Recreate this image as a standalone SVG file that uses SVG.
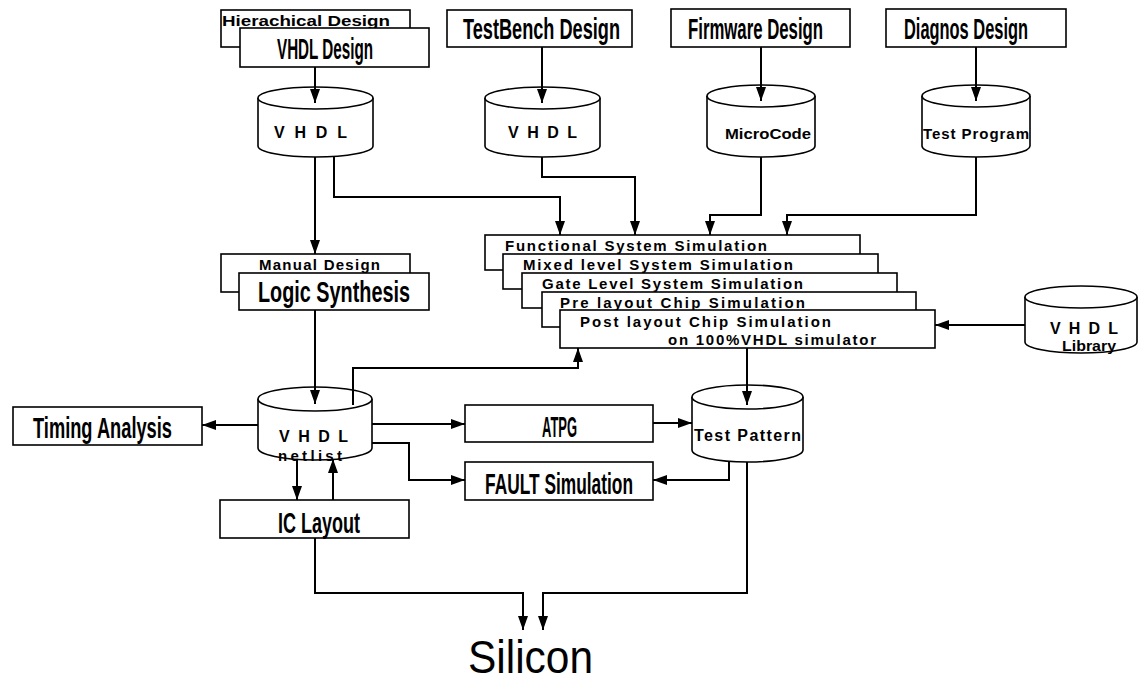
<svg xmlns="http://www.w3.org/2000/svg" width="1143" height="684" viewBox="0 0 1143 684">
  <style>
    .box { fill: #fff; stroke: #000; stroke-width: 1.6; }
    .cyl { fill: #fff; stroke: #000; stroke-width: 1.6; }
    .wire { fill: none; stroke: #000; stroke-width: 2; }
    .arr { marker-end: url(#ah); }
    .big { font-family: "Liberation Sans", Arial, sans-serif; font-size: 22px; font-weight: bold; fill: #000; }
    .sm { font-family: "Liberation Sans", Arial, sans-serif; font-size: 15px; font-weight: bold; fill: #000; }
    .cy { font-family: "Liberation Sans", Arial, sans-serif; font-size: 16px; font-weight: bold; fill: #000; }
    .si { font-family: "Liberation Sans", Arial, sans-serif; font-size: 46px; fill: #000; }
  </style>
  <defs>
    <marker id="ah" markerUnits="userSpaceOnUse" markerWidth="14" markerHeight="10" refX="14" refY="5" orient="auto">
      <path d="M0,0 L14,5 L0,10 Z" fill="#000"/>
    </marker>
  </defs>

  <!-- design entry boxes; tall labels are stretched vertically -->
  <g id="vhdl-design">
    <rect class="box" x="221" y="10" width="189" height="37"/>
    <text class="sm" x="222" y="26" textLength="168" lengthAdjust="spacingAndGlyphs">Hierachical Design</text>
    <rect class="box" x="240" y="28" width="189" height="39"/>
    <text class="big" transform="translate(277,59) scale(1,1.36)" textLength="96" lengthAdjust="spacingAndGlyphs">VHDL Design</text>
  </g>
  <g id="testbench-design">
    <rect class="box" x="447" y="10" width="185" height="37"/>
    <text class="big" transform="translate(463,39) scale(1,1.36)" textLength="157" lengthAdjust="spacingAndGlyphs">TestBench Design</text>
  </g>
  <g id="firmware-design">
    <rect class="box" x="671" y="9" width="179" height="38"/>
    <text class="big" transform="translate(688,39) scale(1,1.36)" textLength="135" lengthAdjust="spacingAndGlyphs">Firmware Design</text>
  </g>
  <g id="diagnos-design">
    <rect class="box" x="886" y="9" width="180" height="38"/>
    <text class="big" transform="translate(904,39) scale(1,1.36)" textLength="124" lengthAdjust="spacingAndGlyphs">Diagnos Design</text>
  </g>

  <!-- source databases -->
  <g id="vhdl-source">
    <path class="cyl" d="M258,98 V146 A57.5,11 0 0 0 373,146 V98"/>
    <ellipse class="cyl" cx="315.5" cy="98" rx="57.5" ry="11"/>
    <text class="cy" x="274" y="138" textLength="73" lengthAdjust="spacing">VHDL</text>
  </g>
  <g id="vhdl-testbench">
    <path class="cyl" d="M485,98 V146 A57.5,11 0 0 0 600,146 V98"/>
    <ellipse class="cyl" cx="542.5" cy="98" rx="57.5" ry="11"/>
    <text class="cy" x="508" y="138" textLength="69" lengthAdjust="spacing">VHDL</text>
  </g>
  <g id="microcode">
    <path class="cyl" d="M707,96 V146 A54,11 0 0 0 815,146 V96"/>
    <ellipse class="cyl" cx="761" cy="96" rx="54" ry="11"/>
    <text class="sm" x="725" y="139" textLength="86" lengthAdjust="spacingAndGlyphs">MicroCode</text>
  </g>
  <g id="test-program">
    <path class="cyl" d="M922,96 V146 A54,11 0 0 0 1030,146 V96"/>
    <ellipse class="cyl" cx="976" cy="96" rx="54" ry="11"/>
    <text class="sm" x="923" y="139" textLength="106" lengthAdjust="spacing">Test Program</text>
  </g>

  <!-- simulation stack -->
  <g id="simulation">
    <rect class="box" x="485" y="235" width="375" height="35"/>
    <text class="sm" x="505" y="251" textLength="262" lengthAdjust="spacing">Functional System Simulation</text>
    <rect class="box" x="503" y="254" width="375" height="35"/>
    <text class="sm" x="523" y="270" textLength="270" lengthAdjust="spacing">Mixed level System Simulation</text>
    <rect class="box" x="522" y="273" width="375" height="35"/>
    <text class="sm" x="542" y="289" textLength="261" lengthAdjust="spacing">Gate Level System Simulation</text>
    <rect class="box" x="542" y="292" width="374" height="35"/>
    <text class="sm" x="560" y="308" textLength="245" lengthAdjust="spacing">Pre layout Chip Simulation</text>
    <rect class="box" x="560" y="310" width="375" height="38"/>
    <text class="sm" x="580" y="327" textLength="251" lengthAdjust="spacing">Post layout Chip Simulation</text>
    <text class="sm" x="668" y="345" textLength="208" lengthAdjust="spacing">on  100%VHDL simulator</text>
  </g>

  <g id="vhdl-library">
    <path class="cyl" d="M1025,297 V342 A56,11 0 0 0 1137,342 V297"/>
    <ellipse class="cyl" cx="1081" cy="297" rx="56" ry="11"/>
    <text class="cy" x="1050" y="334" font-size="15" textLength="68" lengthAdjust="spacing">VHDL</text>
    <text class="sm" x="1062" y="351" font-size="12" textLength="54" lengthAdjust="spacingAndGlyphs">Library</text>
  </g>

  <g id="logic-synthesis">
    <rect class="box" x="221" y="254" width="189" height="38"/>
    <text class="sm" x="259" y="270" textLength="121" lengthAdjust="spacing">Manual Design</text>
    <rect class="box" x="239" y="273" width="190" height="37"/>
    <text class="big" transform="translate(258,302) scale(1,1.36)" textLength="152" lengthAdjust="spacingAndGlyphs">Logic Synthesis</text>
  </g>

  <g id="vhdl-netlist">
    <path class="cyl" d="M258,399 V448 A57,12 0 0 0 372,448 V399"/>
    <ellipse class="cyl" cx="315" cy="399" rx="57" ry="12"/>
    <text class="cy" x="279" y="442" textLength="69" lengthAdjust="spacing">VHDL</text>
    <text class="sm" x="278" y="461" textLength="64" lengthAdjust="spacing">netlist</text>
  </g>

  <g id="timing-analysis">
    <rect class="box" x="13" y="407" width="189" height="38"/>
    <text class="big" transform="translate(33,438) scale(1,1.36)" textLength="139" lengthAdjust="spacingAndGlyphs">Timing Analysis</text>
  </g>
  <g id="atpg">
    <rect class="box" x="465" y="405" width="188" height="37"/>
    <text class="big" transform="translate(542,437) scale(1,1.36)" textLength="35" lengthAdjust="spacingAndGlyphs">ATPG</text>
  </g>
  <g id="fault-simulation">
    <rect class="box" x="465" y="462" width="188" height="38"/>
    <text class="big" transform="translate(485,494) scale(1,1.36)" textLength="148" lengthAdjust="spacingAndGlyphs">FAULT Simulation</text>
  </g>
  <g id="test-pattern">
    <path class="cyl" d="M692,397 V450 A55.5,12 0 0 0 803,450 V397"/>
    <ellipse class="cyl" cx="747.5" cy="397" rx="55.5" ry="12"/>
    <text class="cy" x="694" y="441" textLength="107" lengthAdjust="spacing">Test Pattern</text>
  </g>
  <g id="ic-layout">
    <rect class="box" x="220" y="500" width="189" height="38"/>
    <text class="big" transform="translate(278,533) scale(1,1.36)" textLength="82" lengthAdjust="spacingAndGlyphs">IC Layout</text>
  </g>
  <g id="silicon">
    <text class="si" x="468" y="673" textLength="125" lengthAdjust="spacingAndGlyphs">Silicon</text>
  </g>

  <!-- connectors -->
  <g id="connectors">
    <path class="wire arr" d="M315,67 V103"/>
    <path class="wire arr" d="M542,47 V103"/>
    <path class="wire arr" d="M761,47 V101"/>
    <path class="wire arr" d="M976,47 V101"/>
    <path class="wire arr" d="M315,157 V254"/>
    <path class="wire arr" d="M334,157 V197 H560 V235"/>
    <path class="wire arr" d="M542,157 V177 H635 V235"/>
    <path class="wire arr" d="M761,157 V215 H710 V235"/>
    <path class="wire arr" d="M976,157 V215 H787 V235"/>
    <path class="wire arr" d="M1025,325 H935"/>
    <path class="wire arr" d="M747,348 V405"/>
    <path class="wire arr" d="M315,310 V404"/>
    <path class="wire arr" d="M353,405 V368 H578 V348"/>
    <path class="wire arr" d="M258,425 H202"/>
    <path class="wire arr" d="M372,424 H465"/>
    <path class="wire arr" d="M372,443 H409 V480 H465"/>
    <path class="wire arr" d="M653,423 H692"/>
    <path class="wire arr" d="M729,461 V480 H653"/>
    <path class="wire arr" d="M297,459 V500"/>
    <path class="wire arr" d="M333,500 V459"/>
    <path class="wire arr" d="M315,538 V593 H523 V630"/>
    <path class="wire arr" d="M747,462 V593 H543 V630"/>
  </g>
</svg>
